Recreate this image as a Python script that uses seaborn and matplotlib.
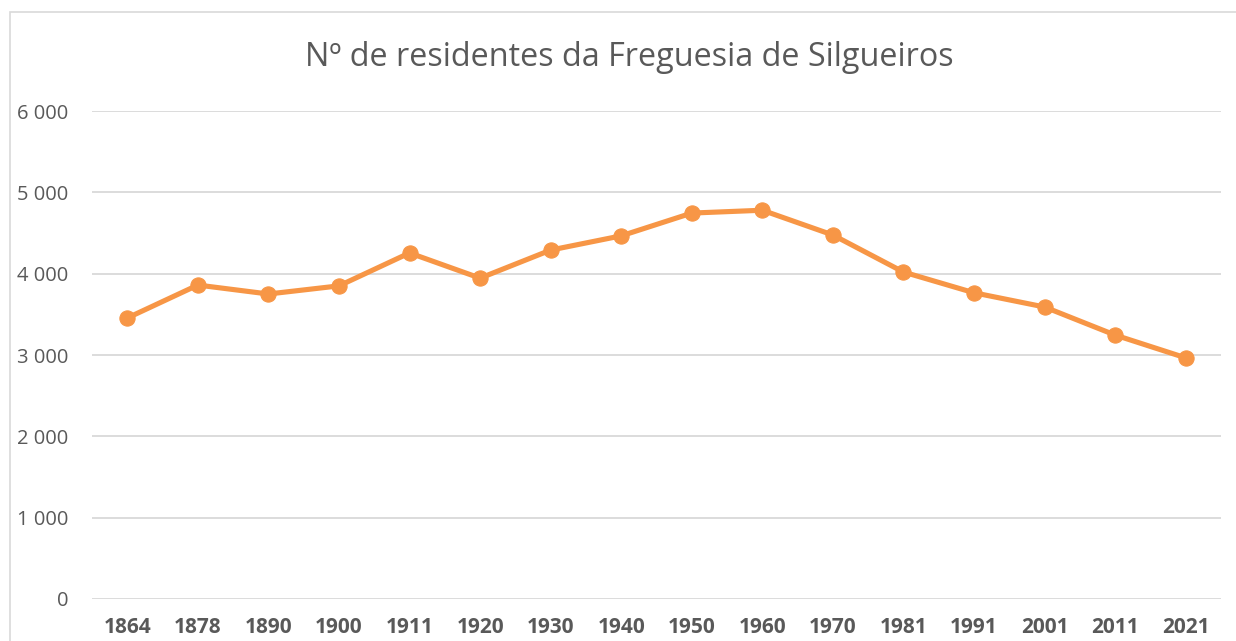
import pandas as pd
import matplotlib.pyplot as plt
import seaborn as sns
from matplotlib.patches import Rectangle
from matplotlib.ticker import FuncFormatter

# Census years and resident counts
years = ['1864', '1878', '1890', '1900', '1911', '1920', '1930', '1940',
         '1950', '1960', '1970', '1981', '1991', '2001', '2011', '2021']
residents = [3455, 3860, 3750, 3850, 4255, 3945, 4290, 4465,
             4745, 4780, 4475, 4020, 3765, 3590, 3245, 2965]
y_ticks = [0, 1000, 2000, 3000, 4000, 5000, 6000]

title = 'Nº de residentes da Freguesia de Silgueiros'
line_color = '#F79646'
text_color = '#595959'
grid_color = '#D9D9D9'


def thousands(v, pos):
    return f'{int(v):,}'.replace(',', ' ')


def main():
    sns.set_theme(style='white')
    plt.rcParams['font.family'] = ['Open Sans', 'DejaVu Sans']

    df = pd.DataFrame({'year': years, 'residents': residents})

    fig = plt.figure(figsize=(12.36, 6.41), dpi=100)
    ax = fig.add_axes([92 / 1236, 1 - 599 / 641, (1221 - 92) / 1236, (599 - 111) / 641])

    # outer chart border
    fig.patches.append(Rectangle((10 / 1236, -0.1), 1.2, 1 - 12 / 641 + 0.1,
                                 transform=fig.transFigure, fill=False,
                                 edgecolor=grid_color, linewidth=1.2))

    sns.lineplot(data=df, x='year', y='residents', ax=ax, color=line_color,
                 linewidth=3.7, marker='o', markersize=11,
                 markeredgecolor=line_color, sort=False)

    ax.set_xlim(-0.5, len(years) - 0.5)
    ax.set_ylim(0, 6000)
    ax.set_yticks(y_ticks)
    ax.yaxis.set_major_formatter(FuncFormatter(thousands))
    ax.grid(axis='y', color=grid_color, linewidth=1.3)
    ax.set_axisbelow(True)
    for s in ax.spines.values():
        s.set_visible(False)
    ax.set_xlabel('')
    ax.set_ylabel('')
    ax.tick_params(axis='y', length=0, pad=17, labelsize=14.5, labelcolor=text_color)
    ax.tick_params(axis='x', length=0, pad=13, labelsize=15, labelcolor=text_color)
    for lbl in ax.get_xticklabels():
        lbl.set_fontweight('bold')

    fig.text(629 / 1236, 1 - 57 / 641, title, ha='center', va='center',
             fontsize=23.3, color=text_color)

    fig.savefig('out.png', dpi=100)
    plt.close(fig)


if __name__ == '__main__':
    main()
